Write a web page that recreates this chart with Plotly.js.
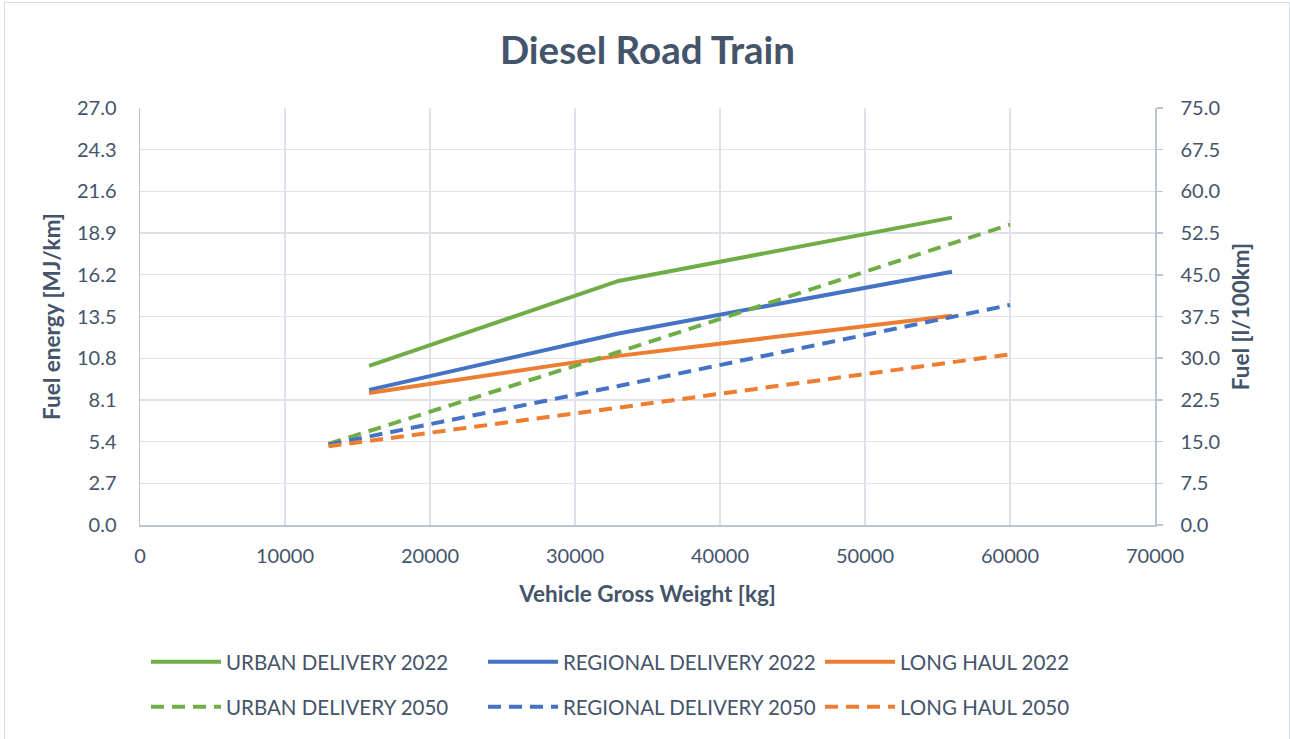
<!DOCTYPE html>
<html>
<head>
<meta charset="utf-8">
<script src="https://cdn.plot.ly/plotly-3.0.1.min.js"></script>
<style>
  html, body { margin: 0; padding: 0; background: #fff; }
  #chart { width: 1290px; height: 739px; position: absolute; left: 0; top: 0; }
  #frame { position: absolute; left: 4px; top: 2px; width: 1284px; height: 745px; border: 1.5px solid #D9DDE3; pointer-events: none; }
</style>
</head>
<body>
<div id="chart"></div>
<div id="frame"></div>
<script>
// Vehicle gross weight [kg]
const weights2022 = [15800, 33000, 56000];
const weights2050 = [13000, 33000, 60000];

// Fuel energy [MJ/km]
const urban2022    = [10.3, 15.8, 19.9];
const regional2022 = [8.75, 12.4, 16.4];
const longhaul2022 = [8.55, 10.95, 13.55];
const urban2050    = [5.25, 11.2, 19.45];
const regional2050 = [5.2, 9.0, 14.25];
const longhaul2050 = [5.1, 7.6, 11.05];

const seriesNames = ['URBAN DELIVERY 2022', 'REGIONAL DELIVERY 2022', 'LONG HAUL 2022',
                     'URBAN DELIVERY 2050', 'REGIONAL DELIVERY 2050', 'LONG HAUL 2050'];

const GREEN = '#70AD47', BLUE = '#4472C4', ORANGE = '#ED7D31';
const TXT = '#44546A';
const GRID = '#DEE2E8';
const AXL = '#BAC4D3';
const FONT = 'Lato, "Open Sans", sans-serif';
const DASH = '13px,8px';

function tr(x, y, name, color, dash, legend) {
  return {
    type: 'scatter', mode: 'lines', x: x, y: y, name: name,
    line: { color: color, width: 4, dash: dash },
    legend: legend, hoverinfo: 'x+y+name'
  };
}

const data = [
  tr(weights2022, urban2022, seriesNames[0], GREEN, 'solid', 'legend'),
  tr(weights2022, regional2022, seriesNames[1], BLUE, 'solid', 'legend'),
  tr(weights2022, longhaul2022, seriesNames[2], ORANGE, 'solid', 'legend'),
  tr(weights2050, urban2050, seriesNames[3], GREEN, DASH, 'legend2'),
  tr(weights2050, regional2050, seriesNames[4], BLUE, DASH, 'legend2'),
  tr(weights2050, longhaul2050, seriesNames[5], ORANGE, DASH, 'legend2'),
  { type: 'scatter', mode: 'lines', x: [null], y: [null], yaxis: 'y2', showlegend: false, hoverinfo: 'skip' }
];

const legendCommon = {
  orientation: 'h', xanchor: 'left', yanchor: 'middle',
  xref: 'container', yref: 'container',
  font: { family: FONT, size: 20.5, color: TXT },
  entrywidth: 252, entrywidthmode: 'pixels', itemwidth: 70,
  bgcolor: 'rgba(0,0,0,0)', traceorder: 'normal', itemclick: false
};

const layout = {
  width: 1290, height: 739,
  paper_bgcolor: '#fff', plot_bgcolor: '#fff',
  margin: { l: 140, r: 135, t: 108, b: 214 },
  font: { family: FONT, color: TXT },
  title: {
    text: '<b>Diesel Road Train</b>',
    font: { family: FONT, size: 38.5, color: TXT },
    x: 0.5, xanchor: 'center', y: 1 - 51 / 739, yanchor: 'middle', xref: 'paper'
  },
  xaxis: {
    range: [0, 70000], dtick: 10000, tick0: 0, tickformat: 'd',
    showgrid: true, gridcolor: GRID, gridwidth: 1.3,
    showline: true, linecolor: AXL, linewidth: 1.5,
    zeroline: false, ticks: '', ticklabelstandoff: 12,
    tickfont: { family: FONT, size: 20, color: TXT },
    title: { text: '<b>Vehicle Gross Weight [kg]</b>', font: { family: FONT, size: 22.5, color: TXT }, standoff: 20 }
  },
  yaxis: {
    range: [0, 27], dtick: 2.7, tick0: 0, tickformat: '.1f',
    showgrid: true, gridcolor: GRID, gridwidth: 1.3,
    showline: true, linecolor: AXL, linewidth: 1.5,
    zeroline: false, ticks: '', ticklabelstandoff: 18,
    tickfont: { family: FONT, size: 20, color: TXT },
    title: { text: '<b>Fuel energy [MJ/km]</b>', font: { family: FONT, size: 22.5, color: TXT }, standoff: 10 }
  },
  yaxis2: {
    overlaying: 'y', side: 'right', anchor: 'x',
    range: [0, 75], dtick: 7.5, tick0: 0, tickformat: '.1f',
    showgrid: false, zeroline: false,
    showline: true, linecolor: AXL, linewidth: 1.5,
    ticks: 'outside', ticklen: 6, tickcolor: AXL, tickwidth: 1.5, ticklabelstandoff: 14,
    tickfont: { family: FONT, size: 20, color: TXT },
    title: { text: '<b>Fuel [l/100km]</b>', font: { family: FONT, size: 22.5, color: TXT }, standoff: 14 }
  },
  legend: Object.assign({}, legendCommon, { x: 146 / 1290, y: 1 - 662 / 739 }),
  legend2: Object.assign({}, legendCommon, { x: 146 / 1290, y: 1 - 707 / 739 }),
  showlegend: true
};

Plotly.newPlot('chart', data, layout, { displayModeBar: false, staticPlot: true });
</script>
</body>
</html>
